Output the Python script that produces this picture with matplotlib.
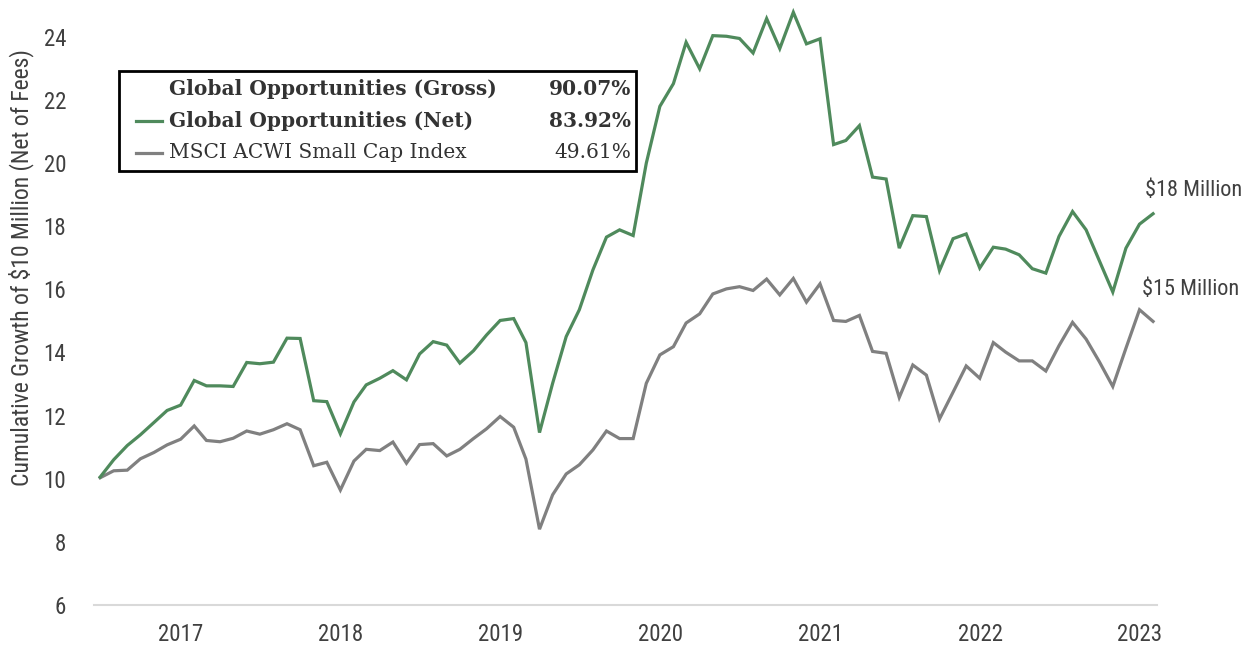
import matplotlib
matplotlib.use("Agg")
import matplotlib.pyplot as plt
from matplotlib import font_manager
from matplotlib.lines import Line2D
from matplotlib.patches import Rectangle
import pandas as pd

# month-end values, growth of $10 million
dates = pd.date_range("2016-06-30", periods=80, freq="ME")

net = [10.05, 10.60, 11.05, 11.39, 11.78, 12.16, 12.33, 13.11, 12.94, 12.94,
       12.92, 13.68, 13.64, 13.69, 14.45, 14.44, 12.47, 12.44, 11.42, 12.43,
       12.97, 13.18, 13.42, 13.13, 13.95, 14.34, 14.23, 13.66, 14.05, 14.55,
       15.01, 15.07, 14.31, 11.46, 13.02, 14.50, 15.35, 16.61, 17.65, 17.88,
       17.70, 19.99, 21.79, 22.51, 23.82, 22.98, 24.03, 24.01, 23.94, 23.48,
       24.57, 23.62, 24.77, 23.77, 23.93, 20.58, 20.71, 21.18, 19.55, 19.49,
       17.30, 18.33, 18.30, 16.59, 17.60, 17.75, 16.67, 17.33, 17.27, 17.09,
       16.65, 16.51, 17.67, 18.46, 17.88, 16.91, 15.91, 17.30, 18.06, 18.39]

msci = [10.03, 10.25, 10.27, 10.63, 10.83, 11.07, 11.25, 11.67, 11.21, 11.17,
        11.28, 11.51, 11.41, 11.55, 11.74, 11.55, 10.41, 10.52, 9.64, 10.56,
        10.93, 10.89, 11.16, 10.49, 11.08, 11.11, 10.72, 10.93, 11.27, 11.58,
        11.97, 11.63, 10.62, 8.40, 9.49, 10.15, 10.44, 10.91, 11.51, 11.27,
        11.27, 13.02, 13.92, 14.18, 14.93, 15.22, 15.85, 16.01, 16.08, 15.96,
        16.32, 15.82, 16.34, 15.59, 16.17, 15.01, 14.98, 15.17, 14.03, 13.97,
        12.57, 13.60, 13.28, 11.89, 12.74, 13.57, 13.18, 14.31, 14.01, 13.73,
        13.73, 13.41, 14.21, 14.95, 14.42, 13.71, 12.92, 14.13, 15.35, 14.98]

legend_names = ["Global Opportunities (Gross)", "Global Opportunities (Net)", "MSCI ACWI Small Cap Index"]
legend_returns = ["90.07%", "83.92%", "49.61%"]
end_labels = ["$18 Million", "$15 Million"]
years = [2017, 2018, 2019, 2020, 2021, 2022, 2023]

green = "#4f8a5c"
grey = "#808080"
txt = "#404040"

# pick a narrow sans if there is one
names = set(f.name for f in font_manager.fontManager.ttflist)
sans = "Roboto"
for cand in ["Roboto Condensed", "Liberation Sans Narrow", "DejaVu Sans Condensed"]:
    if cand in names:
        sans = cand
        break
serif = "DejaVu Serif" if "DejaVu Serif" in names else "Liberation Serif"

W, H = 1245, 646
fig = plt.figure(figsize=(W / 100, H / 100), dpi=100)


def fx(px):
    return px / W


def fy(py):
    return 1 - py / H


ax = fig.add_axes([fx(94), fy(605), fx(1157) - fx(94), fy(5) - fy(605)])

ax.plot(dates, msci, color=grey, lw=2.3, solid_joinstyle="miter")
ax.plot(dates, net, color=green, lw=2.3, solid_joinstyle="miter")

ax.set_ylim(6, 25)
ax.set_xlim(pd.Timestamp("2016-06-16"), pd.Timestamp("2023-02-09"))
ax.set_yticks(range(6, 25, 2))
ax.set_xticks([pd.Timestamp(f"{y}-01-01") for y in years])
ax.set_xticklabels([str(y) for y in years])

for s in ["top", "right", "left"]:
    ax.spines[s].set_visible(False)
ax.spines["bottom"].set_color("#d9d9d9")
ax.spines["bottom"].set_linewidth(1.5)
ax.tick_params(length=0, labelsize=16.5, labelcolor=txt)
ax.tick_params(axis="y", pad=20)
ax.tick_params(axis="x", pad=13)
for lab in ax.get_xticklabels() + ax.get_yticklabels():
    lab.set_fontfamily(sans)

fig.text(fx(21), fy(268), "Cumulative Growth of $10 Million (Net of Fees)", rotation=90,
         ha="center", va="center", fontsize=17, color=txt, family=sans)

# end labels
ax.annotate(end_labels[0], (dates[-1], net[-1]), xytext=(fx(1194), fy(190)), textcoords="figure fraction",
            ha="center", va="center", fontsize=16, color=txt, family=sans)
ax.annotate(end_labels[1], (dates[-1], msci[-1]), xytext=(fx(1191), fy(289)), textcoords="figure fraction",
            ha="center", va="center", fontsize=16, color=txt, family=sans)

# legend box drawn by hand
fig.patches.append(Rectangle((fx(119), fy(171)), fx(636) - fx(119), fy(71) - fy(171),
                             transform=fig.transFigure, fill=False, edgecolor="black", lw=2))
rows_y = [89, 121, 153]
line_cols = [None, green, grey]
weights = ["bold", "bold", "normal"]
for i in range(3):
    y = fy(rows_y[i])
    if line_cols[i]:
        fig.lines.append(Line2D([fx(136), fx(162)], [y, y], transform=fig.transFigure,
                                color=line_cols[i], lw=2.3))
    fig.text(fx(169), y, legend_names[i], ha="left", va="center", fontsize=14.5,
             fontweight=weights[i], color="#333333", family=serif)
    fig.text(fx(631), y, legend_returns[i], ha="right", va="center", fontsize=14.5,
             fontweight=weights[i], color="#333333", family=serif)

fig.savefig("out.png", dpi=100)
